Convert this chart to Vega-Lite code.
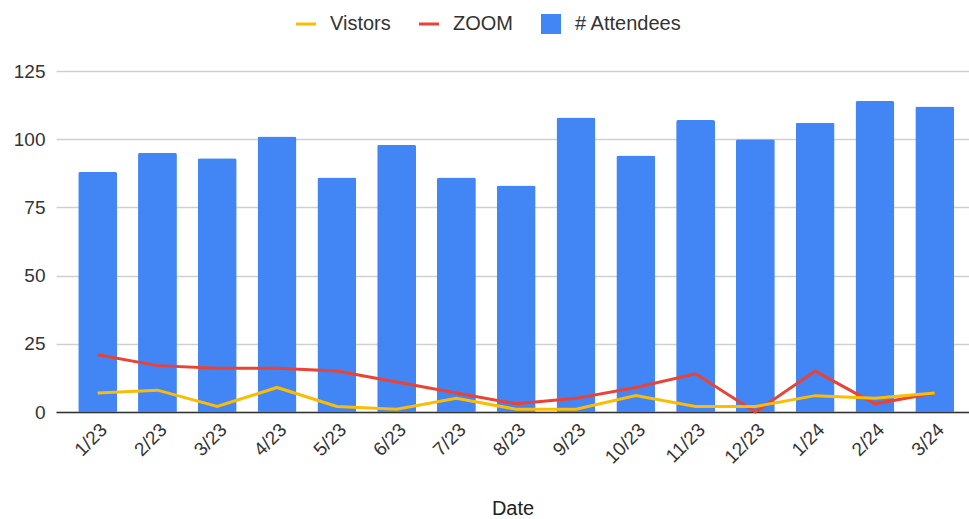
{
  "$schema": "https://vega.github.io/schema/vega-lite/v6.json",
  "width": 913,
  "height": 341,
  "autosize": {"type": "none"},
  "padding": {"left": 56, "top": 71, "right": 0, "bottom": 107},
  "background": "white",
  "config": {
    "font": "Liberation Sans",
    "view": {"stroke": null},
    "axis": {"labelFont": "Liberation Sans", "titleFont": "Liberation Sans", "labelColor": "#333", "titleColor": "#222", "labelFontSize": 19, "titleFontSize": 20, "titleFontWeight": "normal"},
    "legend": {"labelFont": "Liberation Sans", "labelFontSize": 20, "labelColor": "#333"}
  },
  "data": {
    "values": [
      {"date": "1/23", "series": "# Attendees", "value": 88},
      {"date": "2/23", "series": "# Attendees", "value": 95},
      {"date": "3/23", "series": "# Attendees", "value": 93},
      {"date": "4/23", "series": "# Attendees", "value": 101},
      {"date": "5/23", "series": "# Attendees", "value": 86},
      {"date": "6/23", "series": "# Attendees", "value": 98},
      {"date": "7/23", "series": "# Attendees", "value": 86},
      {"date": "8/23", "series": "# Attendees", "value": 83},
      {"date": "9/23", "series": "# Attendees", "value": 108},
      {"date": "10/23", "series": "# Attendees", "value": 94},
      {"date": "11/23", "series": "# Attendees", "value": 107},
      {"date": "12/23", "series": "# Attendees", "value": 100},
      {"date": "1/24", "series": "# Attendees", "value": 106},
      {"date": "2/24", "series": "# Attendees", "value": 114},
      {"date": "3/24", "series": "# Attendees", "value": 112},
      {"date": "1/23", "series": "ZOOM", "value": 21},
      {"date": "2/23", "series": "ZOOM", "value": 17},
      {"date": "3/23", "series": "ZOOM", "value": 16},
      {"date": "4/23", "series": "ZOOM", "value": 16},
      {"date": "5/23", "series": "ZOOM", "value": 15},
      {"date": "6/23", "series": "ZOOM", "value": 11},
      {"date": "7/23", "series": "ZOOM", "value": 7},
      {"date": "8/23", "series": "ZOOM", "value": 3},
      {"date": "9/23", "series": "ZOOM", "value": 5},
      {"date": "10/23", "series": "ZOOM", "value": 9},
      {"date": "11/23", "series": "ZOOM", "value": 14},
      {"date": "12/23", "series": "ZOOM", "value": 0},
      {"date": "1/24", "series": "ZOOM", "value": 15},
      {"date": "2/24", "series": "ZOOM", "value": 3},
      {"date": "3/24", "series": "ZOOM", "value": 7},
      {"date": "1/23", "series": "Vistors", "value": 7},
      {"date": "2/23", "series": "Vistors", "value": 8},
      {"date": "3/23", "series": "Vistors", "value": 2},
      {"date": "4/23", "series": "Vistors", "value": 9},
      {"date": "5/23", "series": "Vistors", "value": 2},
      {"date": "6/23", "series": "Vistors", "value": 1},
      {"date": "7/23", "series": "Vistors", "value": 5},
      {"date": "8/23", "series": "Vistors", "value": 1},
      {"date": "9/23", "series": "Vistors", "value": 1},
      {"date": "10/23", "series": "Vistors", "value": 6},
      {"date": "11/23", "series": "Vistors", "value": 2},
      {"date": "12/23", "series": "Vistors", "value": 2},
      {"date": "1/24", "series": "Vistors", "value": 6},
      {"date": "2/24", "series": "Vistors", "value": 5},
      {"date": "3/24", "series": "Vistors", "value": 7}
    ]
  },
  "encoding": {
    "x": {
      "field": "date",
      "type": "ordinal",
      "sort": ["1/23","2/23","3/23","4/23","5/23","6/23","7/23","8/23","9/23","10/23","11/23","12/23","1/24","2/24","3/24"],
      "scale": {"paddingInner": 0.35, "paddingOuter": 0.31, "align": 0.6},
      "axis": {"title": "Date", "labelAngle": -45, "ticks": false, "domainColor": "#333", "domainWidth": 1.5, "labelPadding": 8, "titleY": 102, "titleBaseline": "alphabetic", "grid": false}
    },
    "y": {
      "field": "value",
      "type": "quantitative",
      "scale": {"domain": [0, 125]},
      "axis": {"title": null, "values": [0, 25, 50, 75, 100, 125], "domain": false, "ticks": false, "labelPadding": 11, "gridColor": "#d0d0d0", "gridWidth": 1.3}
    },
    "color": {
      "field": "series",
      "type": "nominal",
      "scale": {"domain": ["Vistors", "ZOOM", "# Attendees"], "range": ["#fbbc04", "#ea4335", "#4285f4"]},
      "legend": {
        "title": null,
        "orient": "none",
        "legendX": 240,
        "legendY": -57,
        "direction": "horizontal",
        "symbolSize": 400,
        "labelOffset": 14,
        "columnPadding": 28,
        "symbolStrokeWidth": 0,
        "encode": {
          "symbols": {
            "update": {
              "shape": {"signal": "datum.value === '# Attendees' ? 'square' : 'M-1,-0.15H1V0.15H-1Z'"},
              "fill": {"scale": "color", "field": "value"},
              "opacity": {"value": 1},
              "strokeWidth": {"value": 0}
            }
          }
        }
      }
    }
  },
  "layer": [
    {
      "transform": [{"filter": "datum.series === '# Attendees'"}],
      "mark": {"type": "bar", "cornerRadiusEnd": 2}
    },
    {
      "transform": [{"filter": "datum.series !== '# Attendees'"}],
      "mark": {"type": "line", "strokeWidth": 3}
    }
  ]
}
